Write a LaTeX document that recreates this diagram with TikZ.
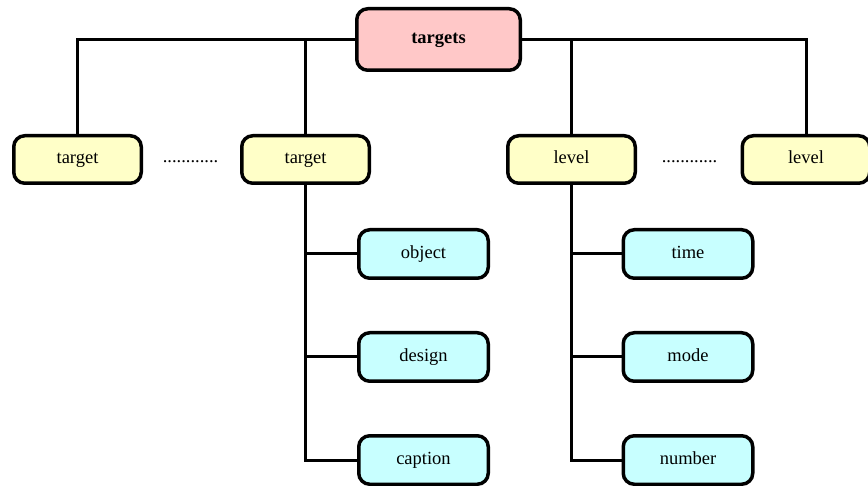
\documentclass[tikz,border=0pt]{standalone}
\usepackage{fontspec}
\setmainfont{Liberation Serif}
\definecolor{pinkfill}{RGB}{255,200,200}
\definecolor{yellowfill}{RGB}{255,255,200}
\definecolor{cyanfill}{RGB}{200,255,255}
\begin{document}
\begin{tikzpicture}[x=1pt,y=-1pt,
  box/.style={draw=black,line width=3.5pt,rounded corners=11pt,inner sep=0pt,
    text height=13pt,text depth=4pt,
    font=\fontsize{18.5}{22}\selectfont},
  rootbox/.style={box,fill=pinkfill,minimum width=163.5pt,minimum height=61.5pt,
    font=\fontsize{18.5}{22}\selectfont\bfseries},
  midbox/.style={box,fill=yellowfill,minimum width=127.5pt,minimum height=47.5pt},
  leafbox/.style={box,fill=cyanfill,minimum width=129.5pt,minimum height=48.5pt},
  link/.style={draw=black,line width=3pt},
  dots/.style={inner sep=0pt,anchor=base,font=\fontsize{18.5}{22}\selectfont}]
\useasboundingbox (0,0) rectangle (868,486);
\node[rootbox] (root) at (438.5,39.5) {targets};
\node[midbox] (t1) at (77.5,159.5) {target};
\node[midbox] (t2) at (305.5,159.5) {target};
\node[midbox] (l1) at (571.5,159.5) {level};
\node[midbox] (l2) at (806,159.5) {level};
\node[dots] (d1) at (190.5,163) {............};
\node[dots] (d2) at (689.5,163) {............};
\node[leafbox] (obj) at (423.5,254) {object};
\node[leafbox] (des) at (423.5,357) {design};
\node[leafbox] (cap) at (423.5,460) {caption};
\node[leafbox] (tim) at (688,254) {time};
\node[leafbox] (mod) at (688,357) {mode};
\node[leafbox] (num) at (688,460) {number};
\draw[link] (root.west) -| (t1.north);
\draw[link] (root.east) -| (l2.north);
\draw[link] (t2.north) -- (t2.north |- root.west);
\draw[link] (l1.north) -- (l1.north |- root.east);
\draw[link] (t2.south) |- (cap.west);
\draw[link] (t2.south |- obj.west) -- (obj.west);
\draw[link] (t2.south |- des.west) -- (des.west);
\draw[link] (l1.south) |- (num.west);
\draw[link] (l1.south |- tim.west) -- (tim.west);
\draw[link] (l1.south |- mod.west) -- (mod.west);
\end{tikzpicture}
\end{document}
